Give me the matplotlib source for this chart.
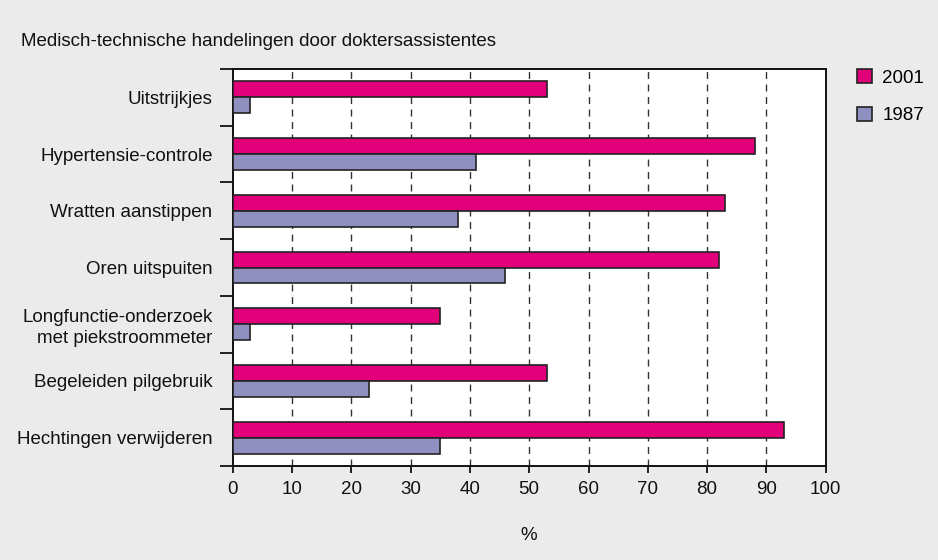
import matplotlib
matplotlib.use("Agg")
import matplotlib.pyplot as plt
from matplotlib.patches import Patch
import numpy as np

categories = ["Uitstrijkjes", "Hypertensie-controle", "Wratten aanstippen",
              "Oren uitspuiten", "Longfunctie-onderzoek\nmet piekstroommeter",
              "Begeleiden pilgebruik", "Hechtingen verwijderen"]
values_2001 = [53, 88, 83, 82, 35, 53, 93]
values_1987 = [3, 41, 38, 46, 3, 23, 35]
series_names = ["2001", "1987"]
x_ticks = [0, 10, 20, 30, 40, 50, 60, 70, 80, 90, 100]
title = "Medisch-technische handelingen door doktersassistentes"
x_label = "%"

plt.rcParams['font.family'] = ['Liberation Sans', 'DejaVu Sans']
FS = 13.5
BG = "#ebebeb"
PINK = "#e2007a"
PURPLE = "#8f8fc0"
EDGE = "#222222"

W, H = 938, 560
fig = plt.figure(figsize=(W / 100, H / 100), dpi=100, facecolor=BG)
ax = fig.add_axes([232.7 / W, 1 - 466 / H, (825.7 - 232.7) / W, (466 - 69) / H])
ax.set_facecolor("white")

y = np.arange(len(categories))
bh = 0.28
ax.barh(y - bh / 2, values_2001, height=bh, color=PINK, edgecolor=EDGE, linewidth=1.2, zorder=3)
ax.barh(y + bh / 2, values_1987, height=bh, color=PURPLE, edgecolor=EDGE, linewidth=1.2, zorder=3)

ax.set_xlim(0, 100)
ax.set_ylim(len(categories) - 0.5, -0.5)
ax.set_xticks(x_ticks)
ax.set_xticklabels([str(v) for v in x_ticks], fontsize=FS, color="#111111")

# major y ticks at group boundaries (unlabelled), labels at centres
ax.set_yticks(np.arange(-0.5, len(categories) + 0.5, 1.0))
ax.set_yticklabels([])
ax.set_yticks(y, minor=True)
ax.set_yticklabels(categories, minor=True, fontsize=FS, color="#111111",
                   multialignment="right", linespacing=1.3)
ax.tick_params(axis="y", which="major", length=9.5, width=1.3, direction="out", color="#111111")
ax.tick_params(axis="y", which="minor", length=0, pad=14.5)
ax.tick_params(axis="x", length=5, width=1.3, direction="out", pad=6, color="#111111")

for v in x_ticks[1:-1]:
    ax.axvline(v, color="#333333", linewidth=1.0, linestyle=(0, (5, 4)), zorder=1)

for s in ax.spines.values():
    s.set_linewidth(1.4)
    s.set_color("#111111")

fig.text(20.7 / W, 1 - 42 / H, title, fontsize=FS, ha="left", va="center", color="#111111")
fig.text(529 / W, 1 - 536 / H, x_label, fontsize=FS, ha="center", va="center", color="#111111")

handles = [Patch(facecolor=PINK, edgecolor=EDGE, linewidth=1.2, label=series_names[0]),
           Patch(facecolor=PURPLE, edgecolor=EDGE, linewidth=1.2, label=series_names[1])]
fig.legend(handles=handles, loc="upper left", bbox_to_anchor=(857 / W, 1 - 69 / H),
           bbox_transform=fig.transFigure, frameon=False, fontsize=FS,
           handlelength=0.8, handleheight=0.8, handletextpad=0.55,
           labelspacing=1.06, borderpad=0, borderaxespad=0)

fig.savefig("out.png", dpi=100, facecolor=BG)
